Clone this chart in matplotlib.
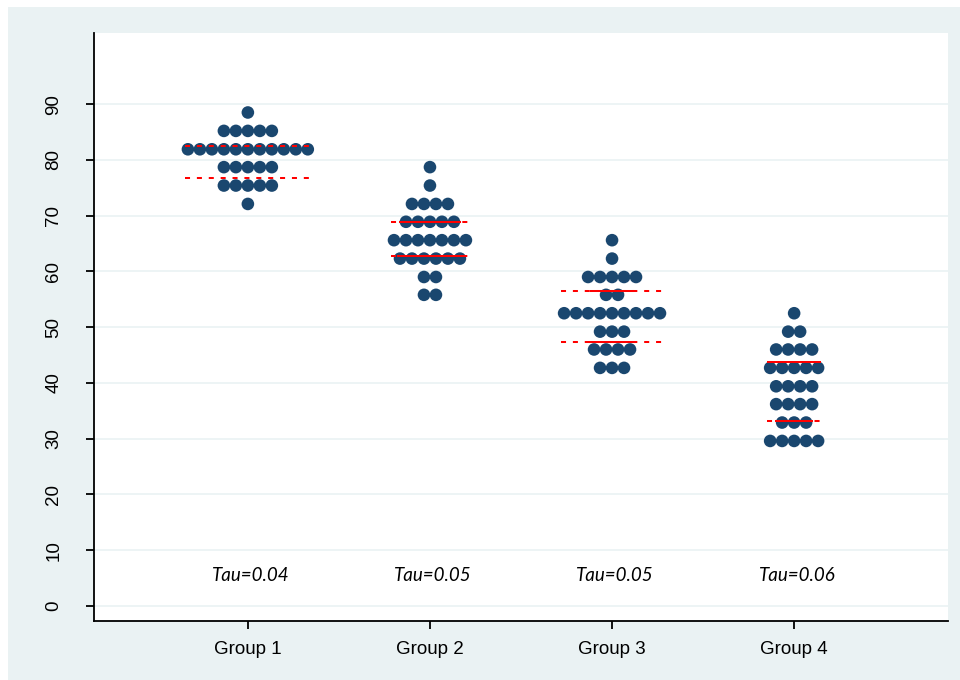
import matplotlib
matplotlib.use("Agg")
import matplotlib.pyplot as plt
from matplotlib.patches import Rectangle

# ---------------- data ----------------
groups = ["Group 1", "Group 2", "Group 3", "Group 4"]
tau_labels = ["Tau=0.04", "Tau=0.05", "Tau=0.05", "Tau=0.06"]

# dot rows (binned values) and number of dots in each row
g1_values = [72.1, 75.4, 78.7, 81.9, 85.2, 88.5]
g1_counts = [1, 5, 5, 11, 5, 1]
g2_values = [55.8, 59.0, 62.3, 65.6, 68.9, 72.1, 75.4, 78.7]
g2_counts = [2, 2, 6, 7, 5, 4, 1, 1]
g3_values = [42.7, 46.0, 49.2, 52.5, 55.8, 59.0, 62.3, 65.6]
g3_counts = [3, 4, 3, 9, 2, 5, 1, 1]
g4_values = [29.6, 32.9, 36.2, 39.4, 42.7, 46.0, 49.2, 52.5]
g4_counts = [5, 3, 4, 4, 5, 4, 2, 1]

# horizontal reference lines (lower, upper)
g1_lines = [76.8, 82.5]
g2_lines = [62.7, 68.8]
g3_lines = [47.4, 56.4]
g4_lines = [33.2, 43.7]

yticks = [0, 10, 20, 30, 40, 50, 60, 70, 80, 90]
tau_y = 4.5

# ---------------- style ----------------
DOT = "#1A476F"
BG = "#EAF2F3"
GRID = "#EAF2F3"
PX_PER_UNIT = 182.3          # pixels per x unit
DOT_SP = 12.0 / PX_PER_UNIT  # horizontal dot spacing (data units)
# half-width (px) of solid part overlaid on dashed lines: (lower, upper)
solid_half_px = [(0, 0), (33, 31), (23, 22), (19, 27)]

all_values = [g1_values, g2_values, g3_values, g4_values]
all_counts = [g1_counts, g2_counts, g3_counts, g4_counts]
all_lines = [g1_lines, g2_lines, g3_lines, g4_lines]

fig = plt.figure(figsize=(9.6, 6.8), dpi=100)
fig.patch.set_facecolor("white")
fig.patches.append(Rectangle((8 / 960, 0), 952 / 960, 673 / 680,
                             transform=fig.transFigure, facecolor=BG,
                             edgecolor="none", zorder=-10))

ax = fig.add_axes([94 / 960, 1 - 621 / 680, (948 - 94) / 960, (621 - 33.3) / 680])
ax.set_facecolor("white")
ax.set_xlim(0.155, 4.845)
ax.set_ylim(-2.69, 102.7)

for s in ["top", "right"]:
    ax.spines[s].set_visible(False)
for s in ["left", "bottom"]:
    ax.spines[s].set_linewidth(1.3)
    ax.spines[s].set_color("black")

ax.set_yticks(yticks)
ax.set_yticklabels([str(t) for t in yticks], rotation=90, va="center",
                   fontsize=13.5, family="Liberation Sans")
ax.set_xticks(range(1, 5))
ax.set_xticklabels(groups, fontsize=13.5, family="Liberation Sans")
ax.tick_params(axis="y", length=5.8, width=1.3, pad=17)
ax.tick_params(axis="x", length=5.8, width=1.3, pad=8.5)
ax.grid(axis="y", color=GRID, linewidth=1.2, zorder=0)
ax.set_axisbelow(True)

ms = 12.6 * 72 / 100  # marker diameter in points
for gi in range(4):
    xc = gi + 1
    xs, ys = [], []
    for v, n in zip(all_values[gi], all_counts[gi]):
        for k in range(n):
            xs.append(xc + (k - (n - 1) / 2) * DOT_SP)
            ys.append(v)
    ax.scatter(xs, ys, s=ms ** 2, color=DOT, edgecolors="none", zorder=3)

    nmax = max(all_counts[gi])
    half = (nmax - 1) / 2 * DOT_SP + 3.0 / PX_PER_UNIT
    for li, yv in enumerate(all_lines[gi]):
        ax.plot([xc - half, xc + half], [yv, yv], color="red", lw=1.45,
                dashes=[2.5, 3.4], solid_capstyle="butt", dash_capstyle="butt",
                zorder=4)
        sh = solid_half_px[gi][li] / PX_PER_UNIT
        if sh > 0:
            ax.plot([xc - sh, xc + sh], [yv, yv], color="red", lw=1.45,
                    solid_capstyle="butt", zorder=4)
    ax.text(xc + 0.015, tau_y, tau_labels[gi], ha="center", va="baseline",
            fontsize=13.5, family="Lato", style="italic", zorder=5)

fig.savefig("out.png", dpi=100)
